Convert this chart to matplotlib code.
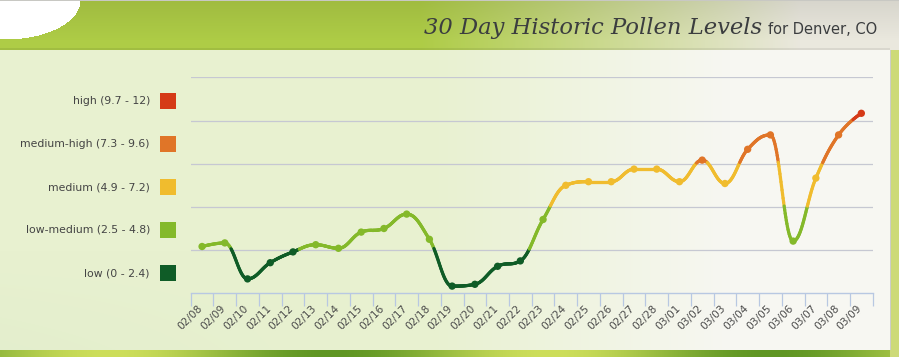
import numpy as np
import matplotlib
matplotlib.use("Agg")
import matplotlib.pyplot as plt
from matplotlib.collections import LineCollection
from matplotlib.patches import Rectangle
import matplotlib.transforms as mtransforms

# data
dates = ['02/08', '02/09', '02/10', '02/11', '02/12', '02/13', '02/14', '02/15',
         '02/16', '02/17', '02/18', '02/19', '02/20', '02/21', '02/22', '02/23',
         '02/24', '02/25', '02/26', '02/27', '02/28', '03/01', '03/02', '03/03',
         '03/04', '03/05', '03/06', '03/07', '03/08', '03/09']
levels = [2.6, 2.8, 0.8, 1.7, 2.3, 2.7, 2.5, 3.4, 3.6, 4.4, 3.0, 0.4, 0.5, 1.5, 1.8,
          4.1, 6.0, 6.2, 6.2, 6.9, 6.9, 6.2, 7.4, 6.1, 8.0, 8.8, 2.9, 6.4, 8.8, 10.0]

zone_labels = ['low (0 - 2.4)', 'low-medium (2.5 - 4.8)', 'medium (4.9 - 7.2)',
               'medium-high (7.3 - 9.6)', 'high (9.7 - 12)']
zone_limits = [2.45, 4.85, 7.25, 9.65]
zone_colors = ['#0f5c27', '#84b92a', '#f0bc2e', '#e07528', '#d53a17']

W, H = 899, 357


def zone_color(v):
    return zone_colors[int(np.searchsorted(zone_limits, v))]


def spline_path(xs, ys, smoothing=1.5, n=40):
    # highcharts-style spline control points
    m = len(xs)
    lc = [None] * m
    rc = [None] * m
    for i in range(m):
        px, py = xs[i], ys[i]
        if i == 0 or i == m - 1:
            lc[i] = (px, py)
            rc[i] = (px, py)
            continue
        lx, ly = xs[i - 1], ys[i - 1]
        nx, ny = xs[i + 1], ys[i + 1]
        d = smoothing + 1
        lcx = (smoothing * px + lx) / d
        lcy = (smoothing * py + ly) / d
        rcx = (smoothing * px + nx) / d
        rcy = (smoothing * py + ny) / d
        corr = ((rcy - lcy) * (rcx - px)) / (rcx - lcx) + py - rcy
        lcy += corr
        rcy += corr
        if lcy > max(ly, py):
            lcy = max(ly, py)
            rcy = 2 * py - lcy
        elif lcy < min(ly, py):
            lcy = min(ly, py)
            rcy = 2 * py - lcy
        if rcy > max(ny, py):
            rcy = max(ny, py)
            lcy = 2 * py - rcy
        elif rcy < min(ny, py):
            rcy = min(ny, py)
            lcy = 2 * py - rcy
        lc[i] = (lcx, lcy)
        rc[i] = (rcx, rcy)
    t = np.linspace(0, 1, n)[:, None]
    pts = []
    for i in range(1, m):
        p0 = np.array([xs[i - 1], ys[i - 1]])
        p1 = np.array(rc[i - 1])
        p2 = np.array(lc[i])
        p3 = np.array([xs[i], ys[i]])
        seg = ((1 - t) ** 3 * p0 + 3 * (1 - t) ** 2 * t * p1
               + 3 * (1 - t) * t ** 2 * p2 + t ** 3 * p3)
        pts.append(seg if i == 1 else seg[1:])
    return np.vstack(pts)


fig = plt.figure(figsize=(W / 100, H / 100), dpi=100)

# ---- background ----
bg = fig.add_axes([0, 0, 1, 1])
bg.set_xlim(0, W)
bg.set_ylim(H, 0)
bg.axis('off')
xx, yy = np.meshgrid(np.arange(W), np.arange(H))
img = np.zeros((H, W, 3))
# panel: greenish on left, near white on right
f = np.clip((xx - 430) / 300.0, 0, 1)
left = np.array([232, 241, 208]) / 255
right = np.array([247, 247, 242]) / 255
img[:] = left * (1 - f[..., None]) + right * f[..., None]
g = np.clip((yy - 250) / 100.0, 0, 1) * np.clip(1 - xx / 350.0, 0, 1)
img = img * (1 - 0.25 * g[..., None]) + np.array([214, 230, 196]) / 255 * 0.25 * g[..., None]
# header band
hdr = yy < 50
fh = np.clip((xx - 420) / 380.0, 0, 1)
hl = np.array([174, 204, 70]) / 255
hr = np.array([234, 232, 222]) / 255
hc = hl * (1 - fh[..., None]) + hr * fh[..., None]
vshade = (0.92 + 0.08 * np.clip(yy / 40.0, 0, 1))[..., None]
img[hdr] = (hc * vshade)[hdr]
white = (((xx - 5) / 75.0) ** 2 + (yy / 39.0) ** 2 < 1) | ((xx < 5) & (yy < 39))
img[white & hdr] = 1.0
img[yy == 0] = np.array([200, 200, 195]) / 255
img[(yy >= 48) & (yy < 50) & (xx < 890)] *= 0.93
# bottom band
bot = yy >= 350
fb = (np.sin(xx / 70.0) * 0.5 + 0.5)
bl = np.array([95, 150, 35]) / 255
br = np.array([205, 222, 90]) / 255
img[bot] = (bl * (1 - fb[..., None]) + br * fb[..., None])[bot]
# right strip
rs = (xx >= 890) & (yy >= 50)
img[rs] = np.array([205, 218, 120]) / 255
img[(xx == 890) & (yy >= 50) & (yy < 350)] = np.array([205, 205, 200]) / 255
bg.imshow(img, extent=(0, W, H, 0), aspect='auto', interpolation='bilinear')

# title
bg.text(762, 34, '30 Day Historic Pollen Levels', ha='right', va='baseline',
        family='DejaVu Serif', style='italic', fontsize=16.3, color='#3b3d3f')
bg.text(768, 34, 'for Denver, CO', ha='left', va='baseline',
        family='DejaVu Sans', fontsize=10.5, color='#3b3d3f')

# legend on the left
leg_y = [273, 230, 187, 144, 101]
for lab, col, y in zip(zone_labels, zone_colors, leg_y):
    bg.add_patch(Rectangle((160, y - 8), 16, 16, facecolor=col, edgecolor='none'))
    bg.text(150, y, lab, ha='right', va='center', fontsize=7.8,
            color='#444444', family='DejaVu Sans')

# ---- chart ----
x0, x1, ytop, ybot = 190.7, 872.7, 77.3, 293.3
ax = fig.add_axes([x0 / W, (H - ybot) / H, (x1 - x0) / W, (ybot - ytop) / H])
ax.patch.set_alpha(0)
ax.set_xlim(-0.5, len(dates) - 0.5)
ax.set_ylim(0, 12)
for sp in ['top', 'right', 'left']:
    ax.spines[sp].set_visible(False)
ax.spines['bottom'].set_color('#b8c8e2')
ax.spines['bottom'].set_linewidth(1.0)
ax.set_yticks([2.4, 4.8, 7.2, 9.6, 12])
ax.tick_params(axis='y', left=False, labelleft=False)
ax.grid(axis='y', color='#c6c8d2', linewidth=0.9)
ax.set_xticks(np.arange(-0.5, len(dates), 1.0))
ax.tick_params(axis='x', which='major', length=9, width=0.9, color='#b8c8e2',
               direction='out', labelbottom=False)
xi = np.arange(len(dates))
ax.set_xticks(xi, minor=True)
ax.set_xticklabels(dates, minor=True, rotation=45, ha='right', va='top',
                   rotation_mode='anchor', fontsize=7.6, color='#4a4a4a')
ax.tick_params(axis='x', which='minor', length=0, pad=7)
off = mtransforms.ScaledTranslation(-4.5 / 100, 0, fig.dpi_scale_trans)
for lbl in ax.get_xticklabels(minor=True):
    lbl.set_transform(lbl.get_transform() + off)

pts = spline_path(xi.astype(float), np.array(levels, dtype=float))
segs = np.stack([pts[:-1], pts[1:]], axis=1)
mids = (pts[:-1, 1] + pts[1:, 1]) / 2
lc = LineCollection(segs, colors=[zone_color(v) for v in mids], linewidths=2.3,
                    capstyle='round', zorder=3)
ax.add_collection(lc)
ax.scatter(xi, levels, s=28, c=[zone_color(v) for v in levels], zorder=4,
           edgecolors='none')

fig.savefig('out.png', dpi=100)
